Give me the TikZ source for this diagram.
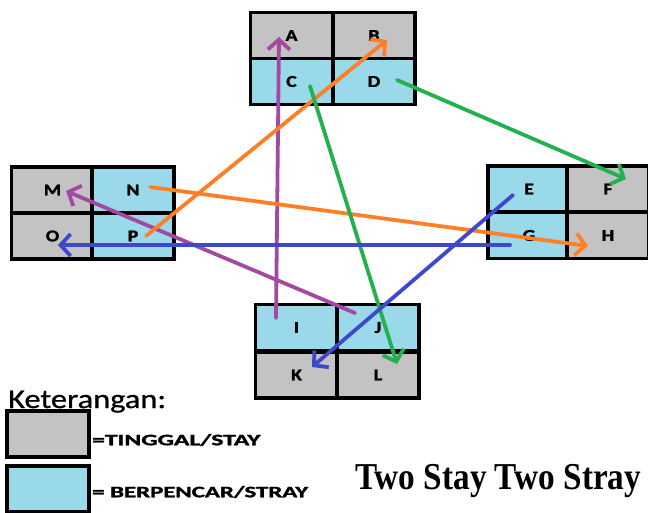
\documentclass[tikz,border=0pt]{standalone}
\usepackage{fontspec}
\setmainfont{Carlito}
\newfontfamily\titlefont{Liberation Serif}
\newfontfamily\boldwide[FakeBold=1.5]{Carlito Bold}
\newfontfamily\semibold[FakeBold=0.8]{Carlito}
\usetikzlibrary{arrows.meta}
\definecolor{cgray}{HTML}{C3C3C3}
\definecolor{cblue}{HTML}{99D9EA}
\definecolor{apurple}{HTML}{A349A4}
\definecolor{aorange}{HTML}{FF7F27}
\definecolor{agreen}{HTML}{22B14C}
\definecolor{ablue}{HTML}{3F48CC}
\tikzset{
  cell/.style={draw=black, line width=3.5pt, minimum width=82pt, minimum height=46pt, inner sep=0pt},
  gcell/.style={cell, fill=cgray},
  bcell/.style={cell, fill=cblue},
  arr/.style={line width=3.8pt, line cap=round, -{Straight Barb[length=10pt,width=22pt,line width=3.8pt]}},
}
\newcommand{\lbl}[1]{\boldwide\fontsize{16.5}{16.5}\selectfont\scalebox{1.2}[1]{#1}}
\begin{document}
\begin{tikzpicture}[x=1pt,y=-1pt]
\useasboundingbox (0,0) rectangle (648,512);
% top group
\node[gcell] (A) at (291.5,35.5) {\raisebox{-4pt}{\lbl{A}}};
\node[gcell] (B) at (374,35.5) {\raisebox{-4pt}{\lbl{B}}};
\node[bcell] (C) at (291.5,81.5) {\lbl{C}};
\node[bcell] (D) at (374,81.5) {\lbl{D}};
% left group
\node[gcell] (M) at (52.5,190) {\lbl{M}};
\node[bcell] (N) at (133,190) {\lbl{N}};
\node[gcell] (O) at (52.5,236) {\lbl{O}};
\node[bcell] (P) at (133,236) {\lbl{P}};
% right group
\node[bcell] (E) at (529,189) {\lbl{E}};
\node[gcell] (F) at (608,189) {\lbl{F}};
\node[bcell] (G) at (529,235.5) {\lbl{G}};
\node[gcell] (H) at (608,235.5) {\lbl{H}};
% bottom group
\node[bcell] (I) at (296.5,327.5) {\lbl{I}};
\node[bcell] (J) at (378,327.5) {\lbl{J}};
\node[gcell] (K) at (296.5,375) {\lbl{K}};
\node[gcell] (L) at (378,375) {\lbl{L}};
% arrow end points
\coordinate (Is) at (276,318);
\coordinate (At) at (279,37);
\coordinate (Js) at (355,313);
\coordinate (Mt) at (66,191);
\coordinate (Ps) at (146,236);
\coordinate (Bt) at (387,40);
\coordinate (Ns) at (150,187);
\coordinate (Ht) at (588,246);
\coordinate (Ds) at (397,80);
\coordinate (Ft) at (626,179);
\coordinate (Cs) at (310,86);
\coordinate (Lt) at (397,364);
\coordinate (Gs) at (510,245);
\coordinate (Ot) at (58,245);
\coordinate (Es) at (513,195);
\coordinate (Kt) at (312,367);
\draw[arr, apurple] (Is) -- (At);
\draw[arr, apurple] (Js) -- (Mt);
\draw[arr, aorange] (Ps) -- (Bt);
\draw[arr, aorange] (Ns) -- (Ht);
\draw[arr, agreen] (Ds) -- (Ft);
\draw[arr, agreen] (Cs) -- (Lt);
\draw[arr, ablue] (Gs) -- (Ot);
\draw[arr, ablue] (Es) -- (Kt);
% legend
\node[anchor=base west, inner sep=0pt] (ket) at (8,408) {\semibold\fontsize{27}{27}\selectfont\scalebox{1.2}[1]{Keterangan:}};
\node[draw=black, line width=4pt, fill=cgray, minimum width=82pt, minimum height=46pt, inner sep=0pt] (lg) at (47.5,434) {};
\node[draw=black, line width=4pt, fill=cblue, minimum width=82pt, minimum height=46pt, inner sep=0pt] (lb) at (47.5,489) {};
\node[anchor=west, inner sep=0pt] (tg) at (92,440) {\boldwide\fontsize{16}{16}\selectfont\scalebox{1.6}[1]{=TINGGAL/STAY}};
\node[anchor=west, inner sep=0pt] (tb) at (92,492) {\boldwide\fontsize{16}{16}\selectfont\scalebox{1.55}[1]{= BERPENCAR/STRAY}};
\node[anchor=base west, inner sep=0pt] (title) at (355,489) {\titlefont\bfseries\fontsize{38}{38}\selectfont\scalebox{0.875}[1]{Two Stay Two Stray}};
\end{tikzpicture}
\end{document}
